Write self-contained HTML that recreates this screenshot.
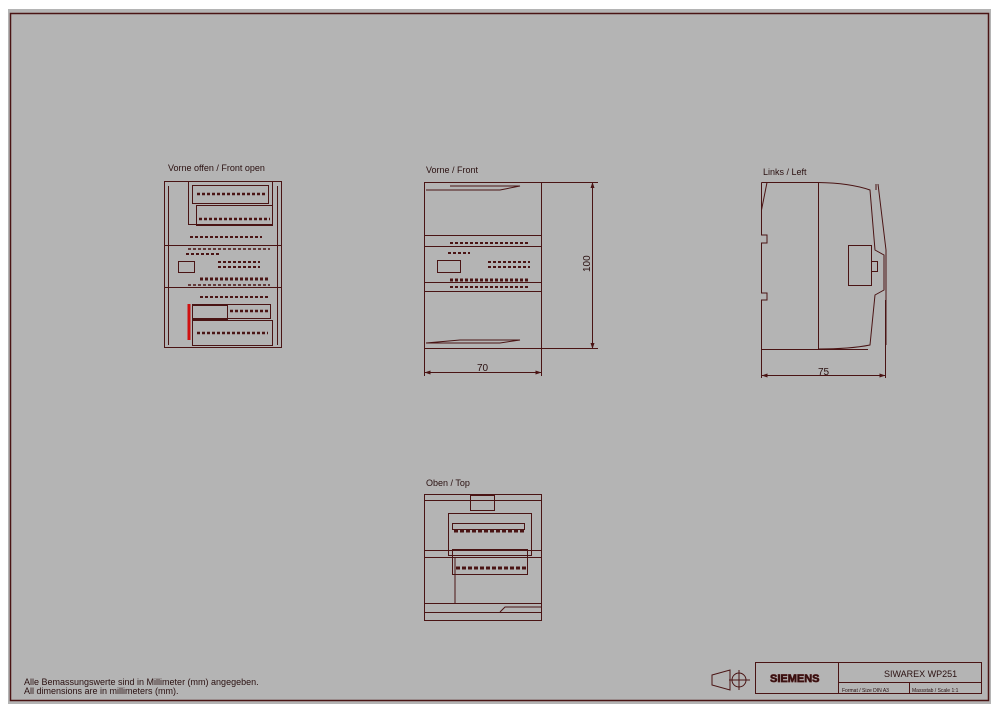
<!DOCTYPE html>
<html><head><meta charset="utf-8"><style>
html,body{margin:0;padding:0;background:#fff;}
svg{display:block}
text{font-family:"Liberation Sans",sans-serif;fill:#2a1010}
</style></head><body>
<svg width="1000" height="713" viewBox="0 0 1000 713" xmlns="http://www.w3.org/2000/svg">
<rect x="8" y="9" width="983" height="695" fill="#b4b4b4"/>
<g fill="none" stroke="#4a1414" stroke-width="1">
<path d="M10.5 13.5H988.5V700.5H10.5Z" stroke-width="1.5"/>

<rect x="164.5" y="181.5" width="117" height="166"/>
<rect x="188.5" y="181.5" width="84" height="43"/>
<rect x="192.5" y="185.5" width="76" height="18"/>
<rect x="196.5" y="205.5" width="76" height="20"/>
<line x1="164" y1="245.5" x2="282" y2="245.5"/>
<line x1="164" y1="287.5" x2="282" y2="287.5"/>
<line x1="168.5" y1="186" x2="168.5" y2="345"/>
<line x1="277.5" y1="186" x2="277.5" y2="345"/>
<rect x="178.5" y="261.5" width="16" height="11"/>
<rect x="192.5" y="304.5" width="78" height="14"/>
<rect x="192.5" y="320.5" width="80" height="25"/>
<rect x="192.5" y="305.5" width="35" height="14"/>
<g stroke-dasharray="3 2" stroke-width="2.5">
<line x1="197" y1="194" x2="266" y2="194"/>
<line x1="199" y1="219" x2="270" y2="219"/>
<line x1="197" y1="333" x2="268" y2="333"/>
<line x1="230" y1="311" x2="268" y2="311"/>
<line x1="190" y1="237" x2="262" y2="237" stroke-width="2"/>
<line x1="188" y1="249" x2="270" y2="249" stroke-width="1.5"/>
<line x1="188" y1="285" x2="270" y2="285" stroke-width="1.5"/>
<line x1="200" y1="297" x2="270" y2="297" stroke-width="2"/>
<line x1="218" y1="262" x2="260" y2="262" stroke-width="2"/>
<line x1="218" y1="267" x2="260" y2="267" stroke-width="2"/>
<line x1="200" y1="279" x2="268" y2="279" stroke-width="3"/>
<line x1="186" y1="254" x2="220" y2="254" stroke-width="2"/>
</g>
<line x1="189" y1="304" x2="189" y2="340" stroke="#d01010" stroke-width="3"/>

<rect x="424.5" y="182.5" width="117" height="166"/>
<line x1="424" y1="235.5" x2="541" y2="235.5"/>
<line x1="424" y1="246.5" x2="541" y2="246.5"/>
<line x1="424" y1="282.5" x2="541" y2="282.5"/>
<line x1="424" y1="291.5" x2="541" y2="291.5"/>
<path d="M450 186H520L500 190H426"/>
<path d="M426 343H500L520 340H460Z"/>
<rect x="437.5" y="260.5" width="23" height="12"/>
<g stroke-dasharray="3 2" stroke-width="2">
<line x1="450" y1="243" x2="530" y2="243"/>
<line x1="448" y1="253" x2="470" y2="253"/>
<line x1="488" y1="262" x2="530" y2="262"/>
<line x1="488" y1="267" x2="530" y2="267"/>
<line x1="450" y1="280" x2="530" y2="280" stroke-width="3"/>
<line x1="450" y1="287" x2="530" y2="287"/>
</g>
<line x1="541" y1="182.5" x2="598" y2="182.5"/>
<line x1="541" y1="348.5" x2="598" y2="348.5"/>
<line x1="592.5" y1="182" x2="592.5" y2="349"/>
<line x1="424.5" y1="348" x2="424.5" y2="376"/>
<line x1="541.5" y1="348" x2="541.5" y2="376"/>
<line x1="424" y1="372.5" x2="541" y2="372.5"/>

<path d="M761.5 182.5H818.5"/>
<path d="M761.5 182.5V235H767V243H761.5V293H767V300H761.5V349.5H868"/>
<path d="M767 182.5L761.5 210"/>
<line x1="818.5" y1="182.5" x2="818.5" y2="349.5"/>
<path d="M818 182.5Q850 183 870 190L875 250L884 255V290L875 295L870 345Q850 349 818 349"/>
<path d="M876 184V190M878 184L886 250V345"/>
<rect x="848.5" y="245.5" width="23" height="40"/>
<rect x="871.5" y="261.5" width="6" height="10"/>
<line x1="761.5" y1="349" x2="761.5" y2="378"/>
<line x1="885.5" y1="300" x2="885.5" y2="378"/>
<line x1="761" y1="375.5" x2="886" y2="375.5"/>

<rect x="424.5" y="494.5" width="117" height="126"/>
<rect x="470.5" y="495.5" width="24" height="15"/>
<line x1="424" y1="500.5" x2="541" y2="500.5"/>
<rect x="448.5" y="513.5" width="83" height="42"/>
<rect x="452.5" y="523.5" width="72" height="6"/>
<rect x="452.5" y="549.5" width="75" height="25"/>
<line x1="424" y1="550.5" x2="541" y2="550.5"/>
<line x1="424" y1="557.5" x2="541" y2="557.5"/>
<line x1="455" y1="558" x2="455" y2="604"/>
<line x1="424" y1="603.5" x2="541" y2="603.5"/>
<line x1="424" y1="612.5" x2="541" y2="612.5"/>
<path d="M500 612L505 607H541"/>
<g stroke-dasharray="4 2" stroke-width="3">
<line x1="454" y1="531" x2="525" y2="531"/>
<line x1="456" y1="568" x2="528" y2="568"/>
</g>

<rect x="755.5" y="662.5" width="226" height="31"/>
<line x1="838.5" y1="662" x2="838.5" y2="694"/>
<line x1="839" y1="682.5" x2="982" y2="682.5"/>
<line x1="909.5" y1="682" x2="909.5" y2="694"/>
<path d="M712 675L730 670V690L712 685Z"/>
<circle cx="739" cy="680" r="7"/>
<line x1="729" y1="680" x2="750" y2="680"/>
<line x1="739" y1="670" x2="739" y2="690"/>
</g>
<g fill="#4a1414">
<path d="M592.5 182 l-2 6h4z M592.5 349 l-2 -6h4z"/>
<path d="M424.5 372.5 l6 -2v4z M541.5 372.5 l-6 -2v4z"/>
<path d="M761.5 375.5 l6 -2v4z M885.5 375.5 l-6 -2v4z"/>
</g>
<text x="168" y="171" font-size="9">Vorne offen / Front open</text>
<text x="426" y="173" font-size="9">Vorne / Front</text>
<text x="763" y="175" font-size="9">Links / Left</text>
<text x="426" y="486" font-size="9">Oben / Top</text>
<text x="477" y="371" font-size="10">70</text>
<text x="818" y="375" font-size="10">75</text>
<text x="0" y="0" font-size="10" transform="translate(590,272) rotate(-90)">100</text>
<text x="24" y="685" font-size="9">Alle Bemassungswerte sind in Millimeter (mm) angegeben.</text>
<text x="24" y="694" font-size="9">All dimensions are in millimeters (mm).</text>
<text x="770" y="682" font-size="11" font-weight="bold" fill="#b4b4b4" stroke="#4a1414" stroke-width="0.7">SIEMENS</text>
<text x="884" y="677" font-size="9">SIWAREX WP251</text>
<text x="842" y="692" font-size="5">Format / Size DIN A3</text>
<text x="912" y="692" font-size="5">Massstab / Scale 1:1</text>
</svg>
</body></html>
